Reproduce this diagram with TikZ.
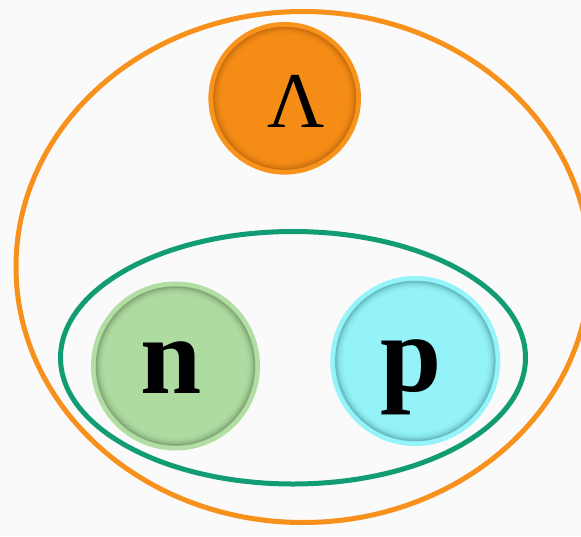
\documentclass[tikz,border=0pt]{standalone}
\usepackage{fontspec}
\setmainfont{Liberation Serif}
\usetikzlibrary{shapes.geometric}
\definecolor{bgc}{HTML}{FAFAFA}
\definecolor{orng}{HTML}{F8901C}
\definecolor{teal}{HTML}{129C74}
\definecolor{lamring}{HTML}{F8931C}
\definecolor{lamfill}{HTML}{F58C16}
\definecolor{lamshad}{HTML}{A85808}
\definecolor{nring}{HTML}{B1DEA3}
\definecolor{nfill}{HTML}{AEDB9F}
\definecolor{nshad}{HTML}{5E7A55}
\definecolor{pring}{HTML}{94F4F9}
\definecolor{pfill}{HTML}{94F3F8}
\definecolor{pshad}{HTML}{3E8A90}
\newcommand\partdisc[4]{% name, inner radius, fill, shadow
  \fill[#3] (#1.center) circle[radius=#2];
  \foreach \d/\o in {0.8/0.5,2.2/0.33,3.6/0.2,5.0/0.11,6.4/0.05,7.8/0.02}{
    \draw[#4, opacity=\o, line width=1.5pt] (#1.center) circle[radius=#2-\d pt];
  }
}
\begin{document}
\begin{tikzpicture}[x=1pt,y=-1pt,
  shell/.style={ellipse, draw, line width=5pt, inner sep=0pt, fill=none},
  ball/.style={circle, inner sep=0pt},
  glyph/.style={anchor=base, inner sep=0pt, text=black}]
\useasboundingbox (0,0) rectangle (581,536);
\fill[bgc] (0,0) rectangle (581,536);
\begin{scope}
\clip (0,0) rectangle (581,536);
\node[shell, draw=orng, minimum width=574pt, minimum height=511pt] (outer) at (303,267) {};
\end{scope}
\node[shell, draw=teal, minimum width=465pt, minimum height=252.5pt] (inner) at (293,357.75) {};
% Lambda
\node[ball, fill=lamring, minimum size=152.6pt] (lam) at (284.7,98.3) {};
\partdisc{lam}{71.6pt}{lamfill}{lamshad}
\node[glyph, font=\fontsize{79}{80}\selectfont] (lamtxt) at (296,127) {Λ};
% neutron
\node[ball, fill=nring, minimum size=169pt] (n) at (175.5,366) {};
\partdisc{n}{79.8pt}{nfill}{nshad}
\node[glyph, font=\fontsize{110}{112}\selectfont\bfseries] (ntxt) at (171,393) {n};
% proton
\node[ball, fill=pring, minimum size=170pt] (p) at (415.3,361) {};
\partdisc{p}{80.3pt}{pfill}{pshad}
\node[glyph, font=\fontsize{110}{112}\selectfont\bfseries] (ptxt) at (411,391) {p};
\end{tikzpicture}
\end{document}
